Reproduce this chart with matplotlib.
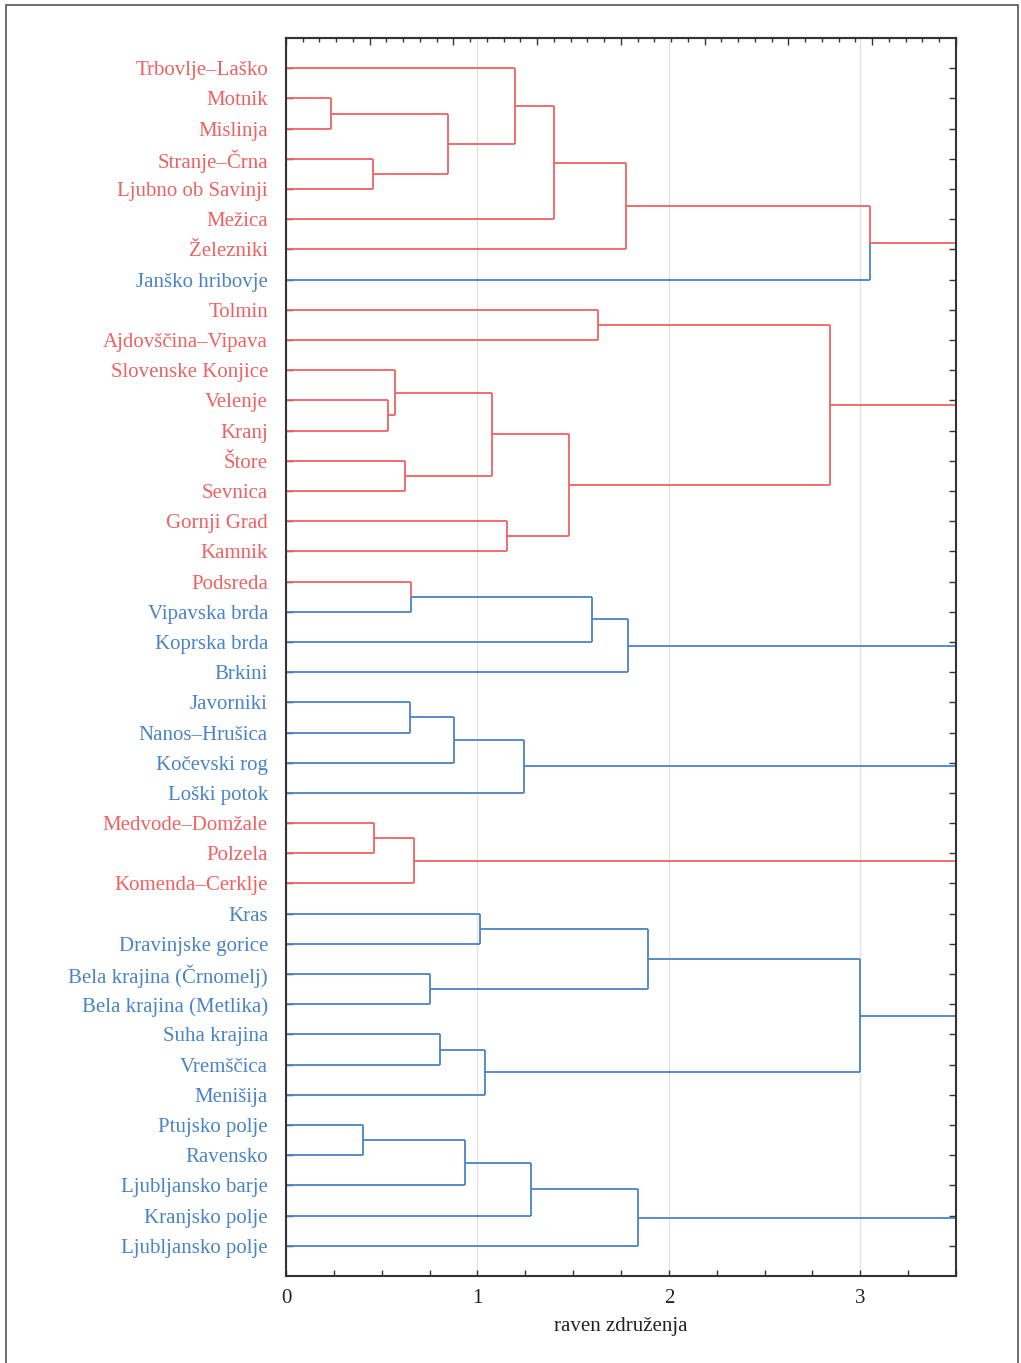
import numpy as np
import matplotlib.pyplot as plt
from matplotlib.patches import Rectangle

plt.rcParams['font.family'] = ['Liberation Serif', 'DejaVu Serif']

RED = '#EF6262'
BLUE = '#4A84C6'

# leaves, top to bottom
labels = [
    'Trbovlje–Laško', 'Motnik', 'Mislinja', 'Stranje–Črna', 'Ljubno ob Savinji',
    'Mežica', 'Železniki', 'Janško hribovje', 'Tolmin', 'Ajdovščina–Vipava',
    'Slovenske Konjice', 'Velenje', 'Kranj', 'Štore', 'Sevnica', 'Gornji Grad',
    'Kamnik', 'Podsreda', 'Vipavska brda', 'Koprska brda', 'Brkini', 'Javorniki',
    'Nanos–Hrušica', 'Kočevski rog', 'Loški potok', 'Medvode–Domžale', 'Polzela',
    'Komenda–Cerklje', 'Kras', 'Dravinjske gorice', 'Bela krajina (Črnomelj)',
    'Bela krajina (Metlika)', 'Suha krajina', 'Vremščica', 'Menišija',
    'Ptujsko polje', 'Ravensko', 'Ljubljansko barje', 'Kranjsko polje',
    'Ljubljansko polje',
]
# r = red group, b = blue group
groups = list('rrrrrrrb' 'rrrrrrrrr' 'rbbb' 'bbbb' 'rrr' 'bbbbbbb' 'bbbbb')

# merges: (child a, child b, level); leaves are 0..39, merge k gets id 40+k
merges = [
    (1, 2, 0.235), (3, 4, 0.455), (40, 41, 0.846), (0, 42, 1.196),
    (43, 5, 1.40), (44, 6, 1.776), (45, 7, 3.05),
    (8, 9, 1.63), (11, 12, 0.533), (10, 48, 0.57), (13, 14, 0.62),
    (49, 50, 1.076), (15, 16, 1.155), (51, 52, 1.48), (47, 53, 2.84),
    (17, 18, 0.653), (55, 19, 1.60), (56, 20, 1.787),
    (21, 22, 0.648), (58, 23, 0.878), (59, 24, 1.243),
    (25, 26, 0.46), (61, 27, 0.669),
    (28, 29, 1.013), (30, 31, 0.752), (63, 64, 1.89), (32, 33, 0.805),
    (66, 34, 1.04), (65, 67, 3.0),
    (35, 36, 0.402), (69, 37, 0.935), (70, 38, 1.28), (71, 39, 1.84),
]

n = len(labels)
ypos = {i: i + 1 for i in range(n)}
height = {i: 0.0 for i in range(n)}
nred = {i: int(groups[i] == 'r') for i in range(n)}
nall = {i: 1 for i in range(n)}
used = set()


def node_color(k):
    return RED if nred[k] * 2 > nall[k] else BLUE


fig = plt.figure(figsize=(10.21, 13.63), dpi=100)
ax = fig.add_axes([0.2801, 0.0638, 0.6562, 0.9083])

for k, (a, b, h) in enumerate(merges):
    nid = n + k
    ymid = (ypos[a] + ypos[b]) / 2
    for c in (a, b):
        col = node_color(c)
        ax.plot([height[c], h], [ypos[c], ypos[c]], color=col, lw=1.3,
                solid_capstyle='butt')
        ax.plot([h, h], [ypos[c], ymid], color=col, lw=1.3,
                solid_capstyle='butt')
        used.add(c)
    ypos[nid] = ymid
    height[nid] = h
    nred[nid] = nred[a] + nred[b]
    nall[nid] = nall[a] + nall[b]

# top-level clusters continue past the right edge
for nid in ypos:
    if nid not in used:
        ax.plot([height[nid], 4.0], [ypos[nid], ypos[nid]],
                color=node_color(nid), lw=1.3, solid_capstyle='butt')

ax.set_xlim(0, 3.5)
ax.set_ylim(n + 1, 0)

ax.set_xticks([0, 1, 2, 3])
ax.set_xticks(np.arange(0, 3.51, 0.25), minor=True)
ax.set_yticks(range(1, n + 1))
ax.set_yticklabels(labels)

ax.grid(axis='x', which='major', color='#E2E2E2', lw=1.0)
ax.set_axisbelow(True)
ax.tick_params(axis='x', which='both', direction='in', length=4, width=1,
               colors='#333333', labelsize=15, labelcolor='#222222', pad=9)
ax.tick_params(axis='y', which='both', direction='in', length=5, width=1,
               right=True, colors='#333333', labelsize=15, pad=13)
for t, g in zip(ax.get_yticklabels(), groups):
    t.set_color(RED if g == 'r' else BLUE)

top = ax.secondary_xaxis('top')
top.set_xticks(np.arange(0, 3.51, 3.5 / 8))
top.set_xticks(np.arange(0, 3.51, 3.5 / 40), minor=True)
top.tick_params(which='major', direction='in', length=5, width=1,
                colors='#333333', labeltop=False)
top.tick_params(which='minor', direction='in', length=3, width=1,
                colors='#333333')
top.set_xticklabels([])

for s in ax.spines.values():
    s.set_color('#333333')
    s.set_linewidth(1.5)
top.spines['top'].set_color('#333333')
top.spines['top'].set_linewidth(1.5)

ax.set_xlabel('raven združenja', fontsize=15, color='#222222', labelpad=7)

fig.patches.append(Rectangle((6 / 1021, -0.01), 1012 / 1021, 1 - 5 / 1363 + 0.01,
                             transform=fig.transFigure, fill=False,
                             edgecolor='#555555', lw=1.2))

fig.savefig('out.png', dpi=100)
